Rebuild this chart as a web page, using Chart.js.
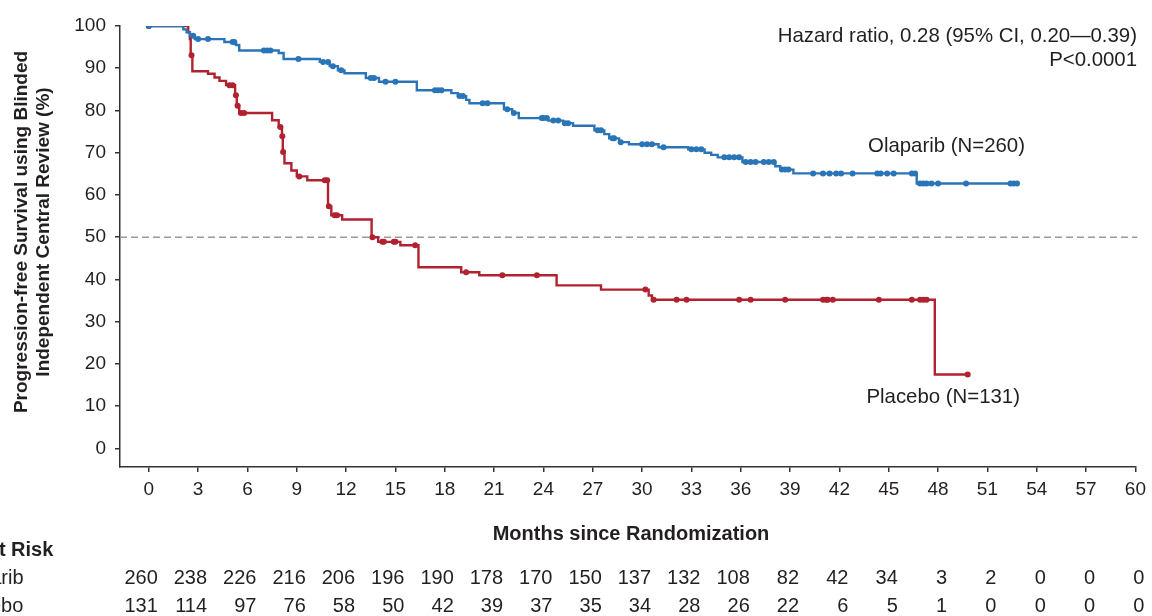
<!DOCTYPE html>
<html>
<head>
<meta charset="utf-8">
<script src="https://cdn.jsdelivr.net/npm/chart.js@4"></script>
<style>
html, body { margin: 0; padding: 0; background: #fff; }
#wrap { width: 1152px; height: 616px; position: relative; }
</style>
</head>
<body>
<div id="wrap"><canvas id="km"></canvas></div>
<script>
// ---- data ----
const monthTicks = [0, 3, 6, 9, 12, 15, 18, 21, 24, 27, 30, 33, 36, 39, 42, 45, 48, 51, 54, 57, 60];
const pctTicks = [0, 10, 20, 30, 40, 50, 60, 70, 80, 90, 100];

// Olaparib: event times (months) and survival (%) after each event
const olaEventT = [2.1, 2.3, 2.5, 2.8, 4.6, 5.3, 5.5, 7.9, 8.2, 10.4, 11.0, 11.5, 11.9, 13.2, 14.0, 16.3,
  18.4, 18.8, 19.3, 19.5, 21.6, 22.1, 22.5, 24.3, 25.2, 25.8, 27.1, 27.7, 28.0, 28.6, 29.2, 31.0,
  32.8, 33.8, 34.2, 34.6, 36.1, 38.1, 38.4, 39.2, 46.7];
const olaEventS = [99.2, 98.5, 97.7, 96.9, 96.2, 95.5, 94.2, 93.6, 92.2, 91.5, 90.5, 89.5, 88.8, 87.7, 86.8, 84.8,
  84.1, 83.4, 82.5, 81.7, 80.3, 79.4, 78.2, 77.6, 77.0, 76.4, 75.3, 74.4, 73.4, 72.5, 72.0, 71.3,
  70.8, 70.0, 69.5, 68.9, 67.8, 66.8, 66.0, 65.1, 62.7];
const olaCensorT = [0, 2.7, 3.0, 3.6, 5.1, 5.2, 7.0, 7.2, 7.4, 9.1, 10.6, 10.9, 11.2, 11.7, 13.5, 13.7, 14.4, 15.0,
  17.4, 17.6, 17.8, 18.9, 19.1, 20.3, 20.6, 21.8, 22.2, 23.9, 24.0, 24.2, 24.6, 24.9, 25.3, 25.5,
  27.3, 27.5, 28.2, 28.3, 28.7, 30.0, 30.3, 30.6, 31.3, 33.0, 33.3, 33.6, 35.0, 35.3, 35.6, 35.9,
  36.3, 36.6, 36.9, 37.4, 37.7, 38.0, 38.5, 38.7, 38.9, 40.4, 41.0, 41.4, 41.8, 42.1, 42.8, 44.3,
  44.5, 44.9, 45.3, 46.4, 46.6, 46.9, 47.1, 47.3, 47.6, 48.0, 49.7, 52.4, 52.6, 52.8];

// Placebo
const plaEventT = [2.4, 2.5, 2.55, 2.65, 3.6, 4.0, 4.3, 4.7, 5.25, 5.35, 5.5, 7.5, 7.9, 8.1, 8.15, 8.25,
  8.67, 9.0, 9.64, 10.9, 11.1, 11.76, 13.55, 13.95, 15.3, 16.4, 19.0, 20.1, 24.8, 27.5, 30.4, 30.6, 47.8];
const plaEventS = [98.5, 96.9, 93.1, 89.3, 88.7, 87.8, 87.0, 86.0, 83.6, 81.1, 79.4, 77.7, 76.1, 73.9, 70.2, 67.5,
  65.8, 64.4, 63.5, 57.3, 55.2, 54.2, 50.0, 48.9, 48.1, 42.9, 41.7, 41.0, 38.6, 37.6, 36.2, 35.2, 17.5];
const plaCensorT = [0, 2.6, 4.9, 5.1, 5.3, 5.4, 5.6, 5.8, 8.0, 8.12, 8.17, 9.15, 10.7, 10.85, 10.95, 11.3, 11.45,
  13.6, 14.2, 14.3, 14.9, 15.0, 16.2, 19.3, 21.5, 23.6, 30.2, 30.7, 32.1, 32.7, 35.9, 36.6, 38.7,
  41.0, 41.2, 41.3, 41.6, 44.4, 46.4, 46.9, 47.1, 47.3, 49.8];

// numbers at risk at each monthTick
const olaAtRisk = [260, 238, 226, 216, 206, 196, 190, 178, 170, 150, 137, 132, 108, 82, 42, 34, 3, 2, 0, 0, 0];
const plaAtRisk = [131, 114, 97, 76, 58, 50, 42, 39, 37, 35, 34, 28, 26, 22, 6, 5, 1, 0, 0, 0, 0];

const OLA_COLOR = '#2a75b7';
const PLA_COLOR = '#b0222f';
const TEXT = '#231f20';
const AXIS = '#333';
const FONT = "'Liberation Sans', Arial, Helvetica, sans-serif";

// step curve points; censored points sit on the current survival level
function buildCurve(eventT, eventS, censorT) {
  const pts = [{ x: 0, y: 100, c: false }];
  eventT.forEach((t, i) => pts.push({ x: t, y: eventS[i], c: false }));
  censorT.forEach(t => {
    let s = 100;
    eventT.forEach((et, i) => { if (et <= t) s = eventS[i]; });
    pts.push({ x: t, y: s, c: true });
  });
  pts.sort((a, b) => a.x - b.x || (a.c ? 1 : -1));
  return pts;
}

const refLine = {
  id: 'refLine',
  beforeDatasetsDraw(chart) {
    const { ctx, chartArea, scales } = chart;
    const y = scales.y.getPixelForValue(50);
    ctx.save();
    ctx.strokeStyle = '#9a9a9a';
    ctx.lineWidth = 1.5;
    ctx.setLineDash([7, 4]);
    ctx.beginPath();
    ctx.moveTo(chartArea.left, y);
    ctx.lineTo(chartArea.right + 2, y);
    ctx.stroke();
    ctx.restore();
  }
};

const labels = {
  id: 'labels',
  afterDraw(chart) {
    const { ctx, scales } = chart;
    const xs = scales.x;
    ctx.save();
    ctx.fillStyle = TEXT;
    ctx.textBaseline = 'middle';

    // annotations
    ctx.font = '20.4px ' + FONT;
    ctx.textAlign = 'right';
    ctx.fillText('Hazard ratio, 0.28 (95% CI, 0.20\u20140.39)', 1137, 36);
    ctx.fillText('P<0.0001', 1137, 60);
    ctx.fillText('Olaparib (N=260)', 1025, 146);
    ctx.fillText('Placebo (N=131)', 1020, 397);

    // axis titles
    ctx.font = 'bold 20px ' + FONT;
    ctx.textAlign = 'center';
    ctx.fillText('Months since Randomization', 631, 534);
    ctx.font = 'bold 19px ' + FONT;
    ctx.save();
    ctx.translate(22, 232);
    ctx.rotate(-Math.PI / 2);
    ctx.fillText('Progression-free Survival using Blinded', 0, 0);
    ctx.fillText('Independent Central Review (%)', 0, 22);
    ctx.restore();

    // numbers at risk
    ctx.font = 'bold 20px ' + FONT;
    ctx.textAlign = 'left';
    ctx.fillText('No. at Risk', -50, 550);
    ctx.font = '20px ' + FONT;
    ctx.fillText('Olaparib', -52, 578);
    ctx.fillText('Placebo', -49, 606);
    ctx.textAlign = 'right';
    monthTicks.forEach((m, i) => {
      const px = xs.getPixelForValue(m) + 9;
      ctx.fillText(String(olaAtRisk[i]), px, 578);
      ctx.fillText(String(plaAtRisk[i]), px, 606);
    });
    ctx.restore();
  }
};

function seriesStyle(color) {
  return {
    borderColor: color,
    backgroundColor: color,
    borderWidth: 2.4,
    stepped: 'before',
    tension: 0,
    fill: false,
    pointRadius: c => (c.raw && c.raw.c ? 3 : 0),
    pointHoverRadius: 0,
    pointBorderWidth: 0,
    pointBackgroundColor: color
  };
}

new Chart(document.getElementById('km'), {
  type: 'line',
  data: {
    datasets: [
      Object.assign({ label: 'Olaparib', data: buildCurve(olaEventT, olaEventS, olaCensorT) }, seriesStyle(OLA_COLOR)),
      Object.assign({ label: 'Placebo', data: buildCurve(plaEventT, plaEventS, plaCensorT) }, seriesStyle(PLA_COLOR))
    ]
  },
  options: {
    responsive: true,
    maintainAspectRatio: false,
    animation: false,
    events: [],
    layout: { padding: { top: 26, right: 13, left: 0, bottom: 119 } },
    plugins: { legend: { display: false }, tooltip: { enabled: false } },
    scales: {
      x: {
        type: 'linear',
        min: -1.75,
        max: 60,
        afterBuildTicks: s => { s.ticks = monthTicks.map(v => ({ value: v })); },
        afterFit: s => { s.height = 30; },
        grid: { drawOnChartArea: false, drawTicks: true, tickLength: 5, color: AXIS, lineWidth: 1.5 },
        border: { display: true, color: AXIS, width: 1.5 },
        ticks: { color: TEXT, font: { size: 19, family: FONT }, padding: 6, maxRotation: 0 }
      },
      y: {
        type: 'linear',
        min: -4.4,
        max: 100,
        afterBuildTicks: s => { s.ticks = pctTicks.map(v => ({ value: v })); },
        afterFit: s => { s.width = 120; },
        grid: { drawOnChartArea: false, drawTicks: true, tickLength: 5, color: AXIS, lineWidth: 1.5 },
        border: { display: true, color: AXIS, width: 1.5 },
        ticks: { color: TEXT, font: { size: 19, family: FONT }, padding: 9 }
      }
    }
  },
  plugins: [refLine, labels]
});
</script>
</body>
</html>
